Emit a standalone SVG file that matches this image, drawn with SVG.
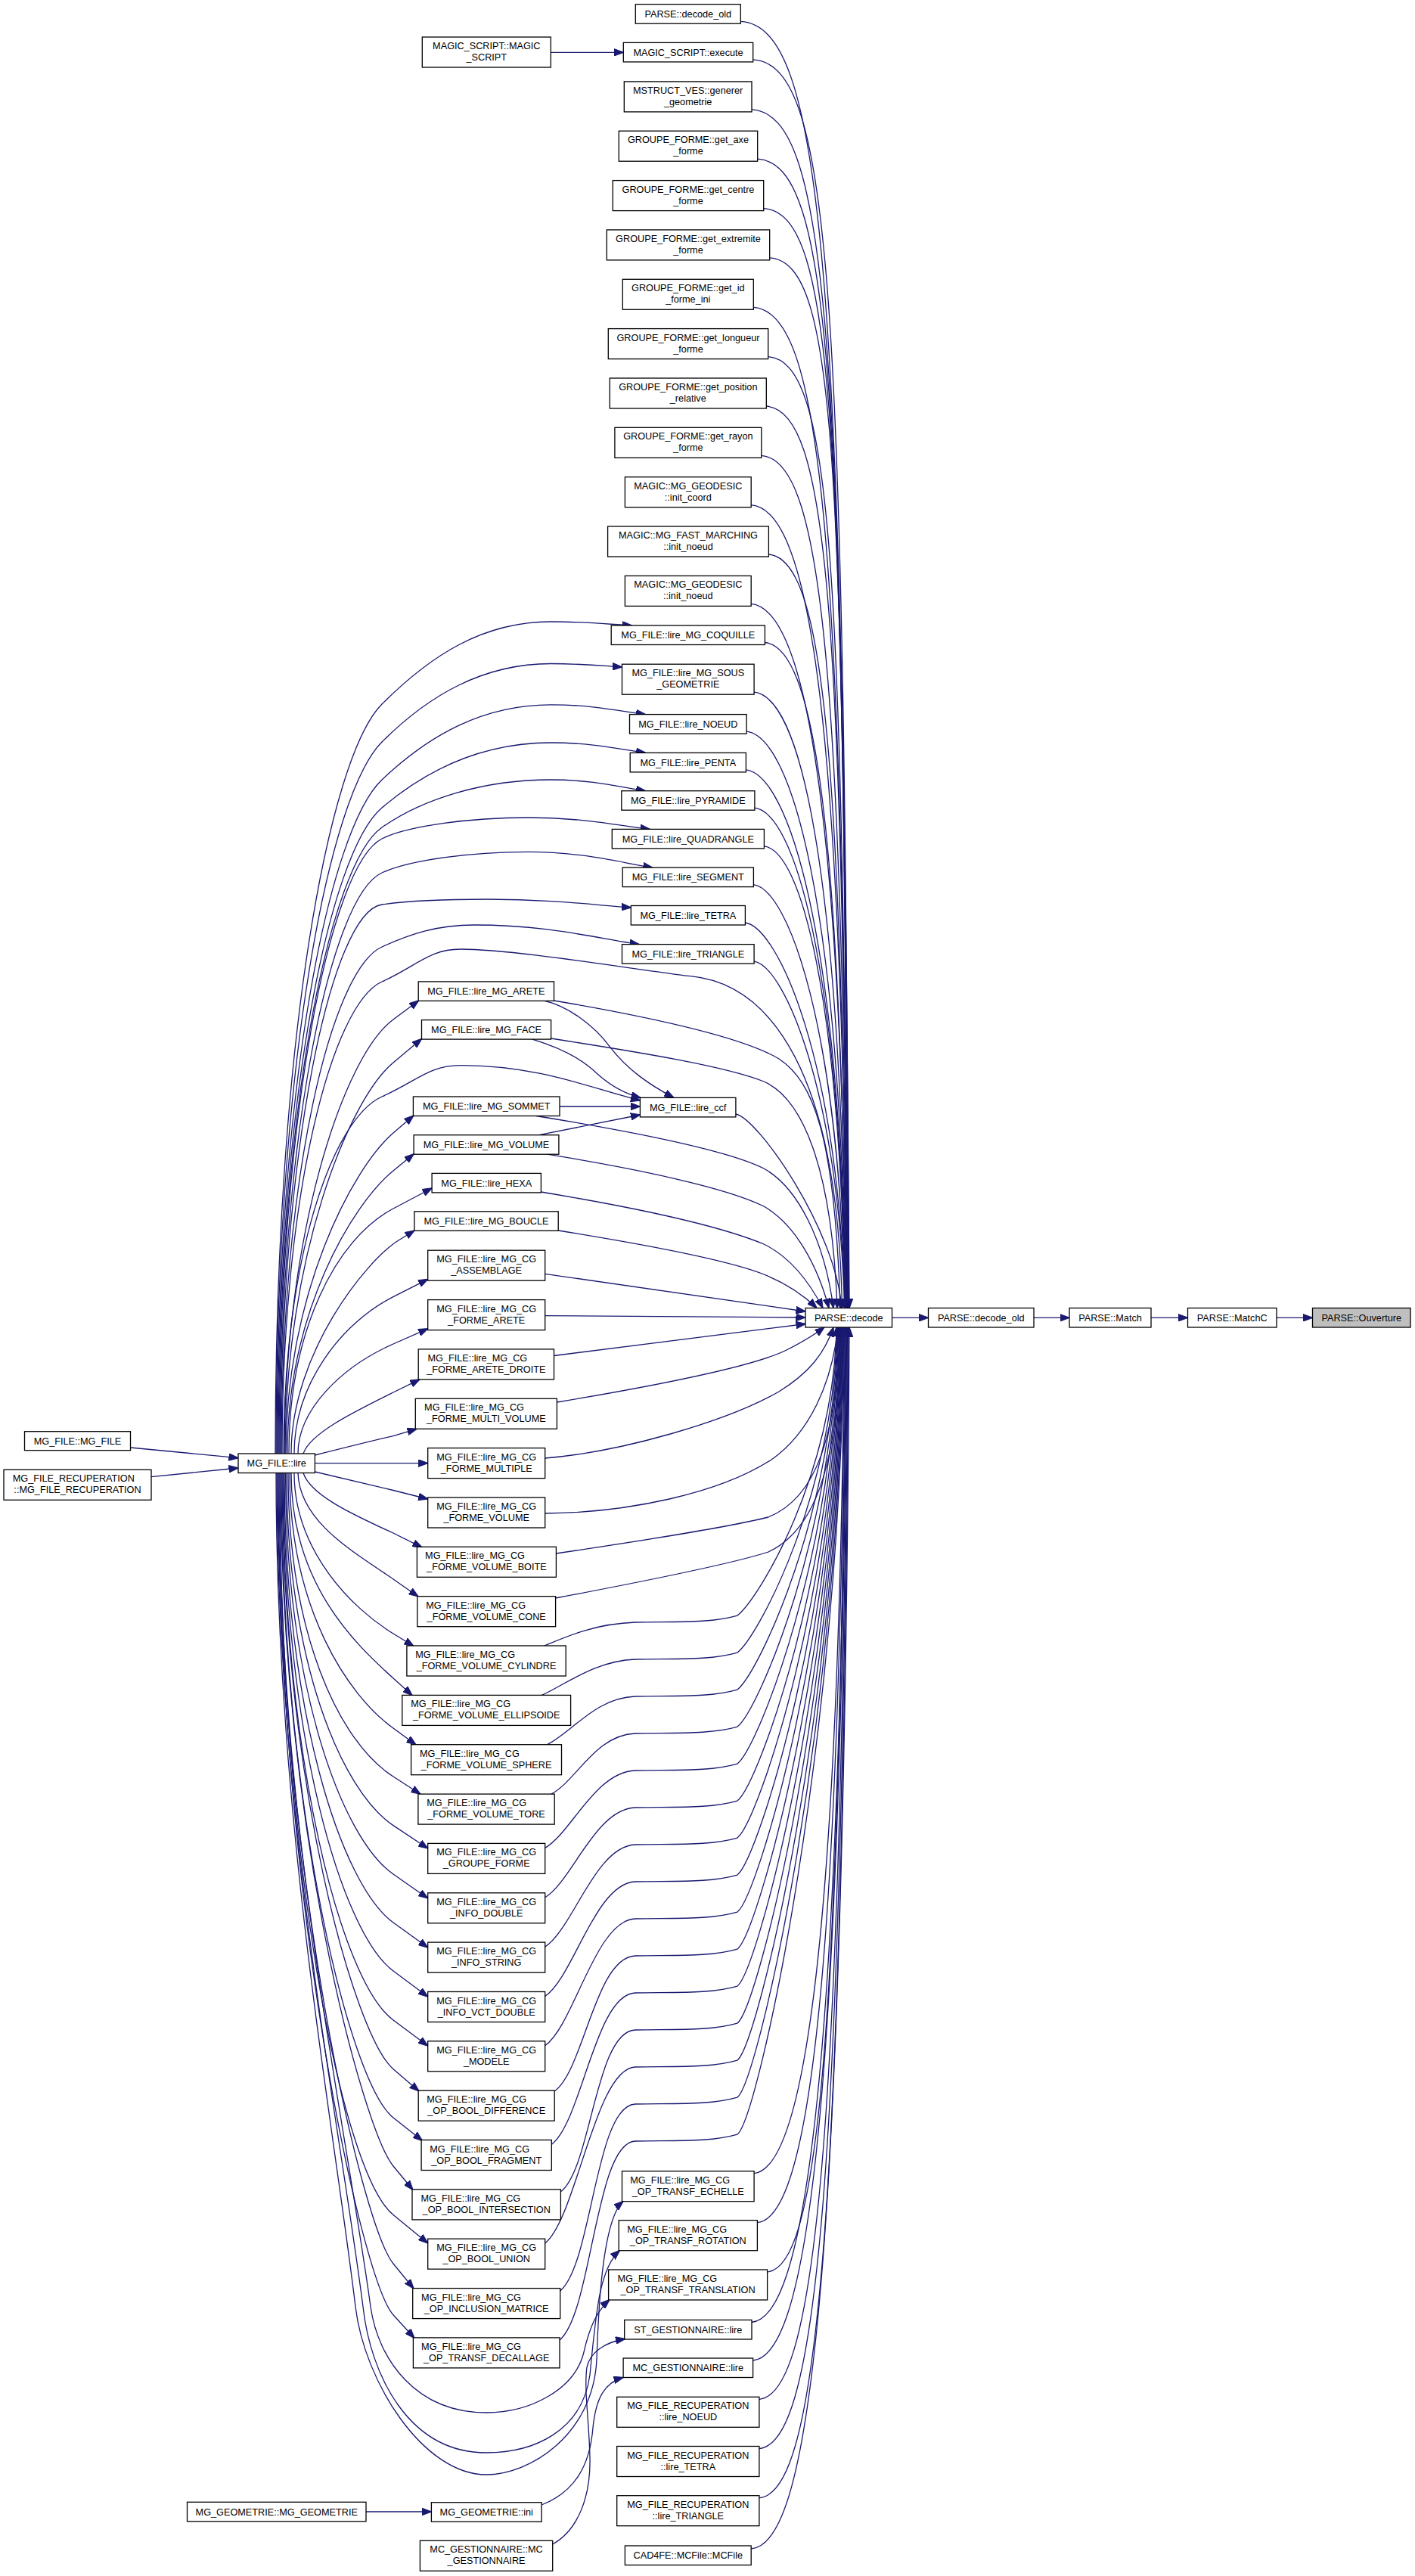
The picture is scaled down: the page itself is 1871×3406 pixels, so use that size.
<svg xmlns="http://www.w3.org/2000/svg" width="1871" height="3406" viewBox="0 0 1871 3406">
<style>
.n rect{fill:#fff;stroke:#000;stroke-width:1.3}
.n text{font-family:"Liberation Sans",Arial,Helvetica,sans-serif;font-size:12.7px;fill:#000}
.m{text-anchor:middle}
.s{text-anchor:start}
#edges path{fill:none;stroke:#191970;stroke-width:1.3;marker-end:url(#ah)}
</style>
<defs>
<marker id="ah" viewBox="0 0 13 10" refX="12.5" refY="5" markerWidth="13" markerHeight="10" markerUnits="userSpaceOnUse" orient="auto"><path d="M0,0.2 L13,5 L0,9.8 Z" fill="#191970" stroke="#191970" stroke-width="1"/></marker>
</defs>
<rect x="0" y="0" width="1871" height="3406" fill="#fff"/>
<g id="edges">
<path d="M1179.5,1742.3H1227.5"/>
<path d="M1367,1742.3H1414"/>
<path d="M1522,1742.3H1570.5"/>
<path d="M1688,1742.3H1735.5"/>
<path d="M728.3,69.3H824.3"/>
<path d="M172.5,1914L315,1927.7"/>
<path d="M200,1952.7L315,1941"/>
<path d="M484,3321H570.4"/>
<path d="M979.3,28.4C1088.1,34.4 1115,358.3 1123,1729.5"/>
<path d="M995.7,78.9C1101.7,84.9 1114.7,402.6 1122.7,1729.5"/>
<path d="M994,144.9C1096.4,150.9 1114.4,460.5 1122.4,1729.5"/>
<path d="M1001.7,210.2C1100.5,216.2 1114.1,517.7 1122.1,1729.5"/>
<path d="M1009.7,275.6C1104.9,281.6 1113.8,575.1 1121.8,1729.5"/>
<path d="M1017.7,340.9C1109.3,346.9 1113.5,632.3 1121.5,1729.5"/>
<path d="M996.3,406.3C1084.3,412.3 1113.2,689.7 1121.2,1729.5"/>
<path d="M1015.7,471.6C1100.1,477.6 1112.9,747 1120.9,1729.5"/>
<path d="M1013.3,537C1094.1,543 1112.6,804.3 1120.6,1729.5"/>
<path d="M1006.8,602.3C1084,608.3 1112.3,861.6 1120.3,1729.5"/>
<path d="M993.2,667.7C1066.8,673.7 1112,919 1120,1729.5"/>
<path d="M1016.4,733C1086.5,739 1111.7,976.2 1119.7,1729.5"/>
<path d="M993.2,798.4C1059.7,804.4 1111.4,1033.6 1119.4,1729.5"/>
<path d="M1011.4,849.5C1075.1,855.5 1111.1,1078.4 1119.1,1729.5"/>
<path d="M997.1,915.2C1057.1,921.2 1110.8,1136 1118.8,1729.5"/>
<path d="M987.1,967.1C1044.3,973.1 1110.5,1181.5 1118.5,1729.5"/>
<path d="M986.4,1017.9C1040.8,1023.9 1110.2,1226.1 1118.2,1729.5"/>
<path d="M997.9,1068.2C1049.5,1074.2 1109.9,1270.2 1117.9,1729.5"/>
<path d="M1010.4,1118.9C1059.2,1124.9 1109.6,1314.7 1117.6,1729.5"/>
<path d="M996.4,1169.6C1042.4,1175.6 1109.3,1359.1 1117.3,1729.5"/>
<path d="M985.4,1220C1028.7,1226 1109,1403.3 1117,1729.5"/>
<path d="M997.1,1271.1C1037.6,1277.1 1108.7,1448.1 1116.7,1729.5"/>
<path d="M973,1473C1002.4,1479 1105,1625.2 1113,1729.5"/>
<path d="M997.1,2873.7C1057.2,2867.7 1108.5,2615.4 1116.5,1755"/>
<path d="M1001.4,2938.7C1063.4,2932.7 1109.3,2672.5 1117.3,1755"/>
<path d="M1014.6,3004C1078.6,2998 1110.1,2729.7 1118.1,1755"/>
<path d="M994,3070.5C1060,3064.5 1110.9,2788 1118.9,1755"/>
<path d="M995.6,3121C1063.1,3115 1111.7,2832.3 1119.7,1755"/>
<path d="M1003.9,3172.3C1072.9,3166.3 1112.5,2877.3 1120.5,1755"/>
<path d="M1003.9,3237.5C1074.9,3231.5 1113.3,2934.5 1121.3,1755"/>
<path d="M1003.9,3302.7C1076.8,3296.7 1114.1,2991.7 1122.1,1755"/>
<path d="M993.2,3370C1068.2,3364 1115,3050.7 1123,1755"/>
<path d="M364,1922C364,1377 434.5,1001.5 505,931C570.4,865.6 639.2,822 728.6,822C776.8,822 808.9,825.9 835.7,827"/>
<path d="M365,1922C365,1404.5 435,1051 505,981C567.1,918.9 639.2,877.5 728.6,877.5C770.9,877.5 799,880.6 822.5,882"/>
<path d="M366,1922C366,1432 435.5,1097 505,1031C567.7,971.4 639.2,931.8 728.6,931.8C784.9,931.8 822.4,940.8 853.6,944.6"/>
<path d="M367,1922C367,1452.3 436,1126.7 505,1068C565.7,1016.4 639.2,982 728.6,982C784.9,982 822.4,991.4 853.6,995.4"/>
<path d="M368,1922C368,1466.6 436.5,1142 505,1094C559,1056.2 639.2,1031 728.6,1031C784.9,1031 822.4,1041.3 853.6,1045.7"/>
<path d="M369,1922C369,1474.9 437,1143 505,1109C538.6,1092.2 621.2,1081 698.6,1081C770.9,1081 819.1,1091.8 859.3,1096.4"/>
<path d="M370,1922C370,1499.6 437.5,1184.4 505,1154C541.8,1137.4 621.2,1126.4 698.6,1126.4C772.5,1126.4 821.8,1140.9 862.9,1147.1"/>
<path d="M371,1922C371,1522.7 438,1206 505,1196C533,1191.8 589,1189 645,1189C730.2,1189 787,1196.7 834.3,1200"/>
<path d="M372,1922C372,1553.5 438.5,1281.9 505,1252C543.7,1234.6 578.2,1223 627,1223C725.1,1223 790.5,1240.9 845,1248.6"/>
<path d="M373,1922C373,1578.8 439,1327.7 505,1298C551.8,1276.9 567.4,1255 609,1255C680,1255 840,1282 913,1290.7C1020,1301 1108,1420 1113.5,1729.5"/>
<path d="M375,1922C375,1662.4 440,1479.3 505,1450C551.8,1428.9 567.4,1408.6 609,1408.6C715.8,1408.6 787,1441 846.4,1455"/>
<path d="M376,1922C376,1635 452.8,1398 520,1348L553.6,1323"/>
<path d="M377,1922C377,1663.5 460,1455.2 520,1405L557.5,1373.6"/>
<path d="M378,1922C378,1710 466.4,1544 520,1498L546.8,1475"/>
<path d="M380,1922C380,1735 465.8,1592.6 520,1548L547.1,1525.7"/>
<path d="M382,1922C382,1760 443.5,1638.5 520,1598L571.1,1571"/>
<path d="M385,1922C385,1789 485,1666 527,1640L548,1627"/>
<path d="M389,1922C389,1830 451.4,1749.4 520,1714.6L565.7,1691.4"/>
<path d="M394,1922C394,1864 451.4,1807.3 520,1777L565.7,1756.8"/>
<path d="M401,1922C410,1895 467.5,1867 520,1841L555,1823.9"/>
<path d="M416.4,1924C460,1913 500,1903 520,1898.6L551,1889.3"/>
<path d="M416.4,1934.6H565.7"/>
<path d="M416.4,1946C460,1956 500,1966 520,1970.5L565.7,1982"/>
<path d="M401,1947.5C410,1975 457,1998.5 520,2027L558,2046"/>
<path d="M394,1947.5C396,2013 470,2053 520,2088L553,2111"/>
<path d="M389,1947.5C389,2050.6 466,2127 520,2160L547,2176.5"/>
<path d="M385,1947.5C385,2094.5 470,2173.8 520,2219L545,2241.6"/>
<path d="M383,1947.5C383,2127 460,2241.8 520,2285L550,2306.9"/>
<path d="M381,1947.5C381,2159.5 448,2303 520,2349L556,2372.3"/>
<path d="M379,1947.5C379,2195.5 451.4,2368 520,2413.6L565.7,2444"/>
<path d="M377.5,1947.5C377.5,2228.5 451.4,2430 520,2478L565.7,2510"/>
<path d="M376,1947.5C376,2261 451.4,2492.5 520,2542L565.7,2575"/>
<path d="M375,1947.5C375,2294 451.4,2555 520,2606L565.7,2640"/>
<path d="M374,1947.5C374,2326 451.4,2620 520,2671L565.7,2705"/>
<path d="M373,1947.5C373,2356 469,2691.8 520,2735.7L554,2765"/>
<path d="M372,1947.5C372,2389 462,2754 520,2800L558.5,2830.5"/>
<path d="M371,1947.5C371,2421 481,2816.8 520,2864L546,2895.5"/>
<path d="M370,1947.5C370,2457 451.4,2872.5 520,2928.6L565.7,2966"/>
<path d="M369,1947.5C369,2486 479.5,2943.5 520,2993L547,3026"/>
<path d="M368,1947.5C368,2519 478,3014.5 520,3060.7L548,3091.5"/>
<path d="M367,1947.5C367,2400 456,2800 490,3050C500,3120 550,3190 643,3190C700,3190 760,3160 772,3110C780,3075 790,3055 806,3040.5"/>
<path d="M366,1947.5C366,2400 448,2800 480,3050C490,3140 540,3243 643,3243C705,3243 770,3215 780,3140C788,3060 792,3000 819.5,2975.5"/>
<path d="M365,1947.5C365,2400 440,2800 470,3050C482,3150 560,3272 643,3272C700,3272 784,3220 789,3120C791,3060 796,2935 824,2910.5"/>
<path d="M716.1,3312C760,3295 780,3260 784,3210C788,3170 800,3150 824.1,3143.5"/>
<path d="M730.7,3364C765,3345 781,3300 780,3250C779,3200 772,3160 776,3130C780,3110 800,3097 826.5,3092.5"/>
<path d="M720,1323.4C750,1330 785,1355 806,1383.6C830,1415 860,1435 891,1451.4"/>
<path d="M704,1374.1C740,1385 770,1400 790,1420C810,1438 830,1447 847,1451.4"/>
<path d="M740,1463H846.4"/>
<path d="M713,1500.7L846.4,1474"/>
<path d="M732.5,1323C850,1343 980,1370 1030,1400C1075,1430 1104,1500 1111,1729.5"/>
<path d="M728.6,1373C850,1392 960,1410 1010,1430C1060,1452 1100,1540 1107,1729.5"/>
<path d="M709,1475.5C830,1495 960,1520 1010,1545C1055,1570 1090,1640 1102,1729.5"/>
<path d="M723.6,1526.2C840,1545 960,1570 1010,1595C1050,1618 1080,1670 1096,1729.5"/>
<path d="M715.4,1576C830,1595 950,1620 1010,1645C1045,1662 1070,1695 1088,1729.5"/>
<path d="M738.2,1627C850,1645 960,1665 1010,1685C1040,1697 1062,1712 1080,1729.5"/>
<path d="M720.7,1684.3L1065,1734"/>
<path d="M720.7,1739.6L1065,1742"/>
<path d="M732.5,1792.5L1065,1750.5"/>
<path d="M736.4,1854C880,1830 1000,1805 1040,1785C1060,1775 1075,1766 1090,1755"/>
<path d="M720.7,1928C820,1920 960,1880 1030,1840C1070,1815 1090,1790 1102,1755"/>
<path d="M720.7,2001C830,2000 950,1975 1020,1930C1070,1895 1100,1830 1108,1755"/>
<path d="M735.4,2054C830,2040 960,2020 1016,2006C1080,1980 1105,1900 1112,1755"/>
<path d="M734.6,2113C830,2095 960,2070 1016,2052C1085,2020 1108,1920 1114,1755"/>
<path d="M720,2176C751.6,2162.8 787,2147 840,2145C900,2144 940,2146 975,2136C1003,2114 1103,1949.5 1106,1755"/>
<path d="M716.4,2241.4C748.8,2226.6 787,2196 840,2194C900,2193 940,2195 975,2185C1003,2163 1103.7,1974 1106.7,1755"/>
<path d="M723.6,2306.7C756.8,2290 787,2245 840,2243C900,2242 940,2244 975,2234C1003,2212 1104.4,1998.5 1107.4,1755"/>
<path d="M729,2372.1C763,2353.7 787,2294 840,2292C900,2291 940,2293 975,2283C1003,2261 1105.1,2023 1108.1,1755"/>
<path d="M720.7,2443.4C755.9,2422.7 787,2343 840,2341C900,2340 940,2342 975,2332C1003,2310 1105.8,2047.5 1108.8,1755"/>
<path d="M720.7,2508.8C756.7,2486.8 787,2392 840,2390C900,2389 940,2391 975,2381C1003,2359 1106.5,2072 1109.5,1755"/>
<path d="M720.7,2574.1C757.5,2550.5 787,2441 840,2439C900,2438 940,2440 975,2430C1003,2408 1107.2,2096.5 1110.2,1755"/>
<path d="M720.7,2639.5C758.3,2614.3 787,2490 840,2488C900,2487 940,2489 975,2479C1003,2457 1107.9,2121 1110.9,1755"/>
<path d="M720.7,2704.8C759.2,2677.9 787,2539 840,2537C900,2536 940,2538 975,2528C1003,2506 1108.6,2145.5 1111.6,1755"/>
<path d="M733.2,2765C772.2,2737 787,2588 840,2586C900,2585 940,2587 975,2577C1003,2555 1109.3,2170 1112.3,1755"/>
<path d="M729.3,2835.5C769.4,2805.3 787,2637 840,2635C900,2634 940,2636 975,2626C1003,2604 1110,2194.5 1113,1755"/>
<path d="M741.4,2898C782.2,2866.5 787,2686 840,2684C900,2683 940,2685 975,2675C1003,2653 1110.7,2219 1113.7,1755"/>
<path d="M720.7,2966C762.4,2932.6 787,2735 840,2733C900,2732 940,2734 975,2724C1003,2702 1111.4,2243.5 1114.4,1755"/>
<path d="M740.7,3029C783.1,2994.2 787,2784 840,2782C900,2781 940,2783 975,2773C1003,2751 1112.1,2268 1115.1,1755"/>
<path d="M740,3094C783.2,3057.6 787,2833 840,2831C900,2830 940,2832 975,2822C1003,2800 1112.8,2292.5 1115.8,1755"/>
</g>
<g id="n_decode" class="n"><rect x="1065" y="1729.5" width="114.5" height="25.5"/><text class="m" x="1122.25" y="1746.7">PARSE::decode</text></g>
<g id="n_decode_old_r" class="n"><rect x="1227.5" y="1729.5" width="139.5" height="25.5"/><text class="m" x="1297.25" y="1746.7">PARSE::decode_old</text></g>
<g id="n_match" class="n"><rect x="1414" y="1729.5" width="108" height="25.5"/><text class="m" x="1468" y="1746.7">PARSE::Match</text></g>
<g id="n_matchc" class="n"><rect x="1570.5" y="1729.5" width="117.5" height="25.5"/><text class="m" x="1629.25" y="1746.7">PARSE::MatchC</text></g>
<g id="n_ouverture" class="n"><rect x="1735.5" y="1729.5" width="129.5" height="25.5" style="fill:#bfbfbf"/><text class="m" x="1800.25" y="1746.7">PARSE::Ouverture</text></g>
<g id="n_t0" class="n"><rect x="840.3" y="5.7" width="139" height="25.5"/><text class="m" x="909.8" y="22.9">PARSE::decode_old</text></g>
<g id="n_t1" class="n"><rect x="824.3" y="56.4" width="171.4" height="25.5"/><text class="m" x="910" y="73.6">MAGIC_SCRIPT::execute</text></g>
<g id="n_t2" class="n"><rect x="825.3" y="107.9" width="168.7" height="40"/><text class="m" x="909.65" y="123.9">MSTRUCT_VES::generer</text><text class="m" x="909.65" y="138.9">_geometrie</text></g>
<g id="n_t3" class="n"><rect x="818.3" y="173.2" width="183.4" height="40"/><text class="m" x="910" y="189.2">GROUPE_FORME::get_axe</text><text class="m" x="910" y="204.2">_forme</text></g>
<g id="n_t4" class="n"><rect x="810.3" y="238.6" width="199.4" height="40"/><text class="m" x="910" y="254.6">GROUPE_FORME::get_centre</text><text class="m" x="910" y="269.6">_forme</text></g>
<g id="n_t5" class="n"><rect x="802.3" y="303.9" width="215.4" height="40"/><text class="m" x="910" y="319.9">GROUPE_FORME::get_extremite</text><text class="m" x="910" y="334.9">_forme</text></g>
<g id="n_t6" class="n"><rect x="823.3" y="369.3" width="173" height="40"/><text class="m" x="909.8" y="385.3">GROUPE_FORME::get_id</text><text class="m" x="909.8" y="400.3">_forme_ini</text></g>
<g id="n_t7" class="n"><rect x="804.3" y="434.6" width="211.4" height="40"/><text class="m" x="910" y="450.6">GROUPE_FORME::get_longueur</text><text class="m" x="910" y="465.6">_forme</text></g>
<g id="n_t8" class="n"><rect x="806.3" y="500" width="207" height="40"/><text class="m" x="909.8" y="516">GROUPE_FORME::get_position</text><text class="m" x="909.8" y="531">_relative</text></g>
<g id="n_t9" class="n"><rect x="812.9" y="565.3" width="193.9" height="40"/><text class="m" x="909.85" y="581.3">GROUPE_FORME::get_rayon</text><text class="m" x="909.85" y="596.3">_forme</text></g>
<g id="n_t10" class="n"><rect x="826.4" y="630.7" width="166.8" height="40"/><text class="m" x="909.8" y="646.7">MAGIC::MG_GEODESIC</text><text class="m" x="909.8" y="661.7">::init_coord</text></g>
<g id="n_t11" class="n"><rect x="803.6" y="696" width="212.8" height="40"/><text class="m" x="910" y="712">MAGIC::MG_FAST_MARCHING</text><text class="m" x="910" y="727">::init_noeud</text></g>
<g id="n_t12" class="n"><rect x="826.4" y="761.4" width="166.8" height="40"/><text class="m" x="909.8" y="777.4">MAGIC::MG_GEODESIC</text><text class="m" x="909.8" y="792.4">::init_noeud</text></g>
<g id="n_t13" class="n"><rect x="808.2" y="827" width="203.2" height="25.5"/><text class="m" x="909.8" y="844.2">MG_FILE::lire_MG_COQUILLE</text></g>
<g id="n_t14" class="n"><rect x="822.5" y="878.2" width="174.6" height="40"/><text class="m" x="909.8" y="894.2">MG_FILE::lire_MG_SOUS</text><text class="m" x="909.8" y="909.2">_GEOMETRIE</text></g>
<g id="n_t15" class="n"><rect x="832.5" y="944.6" width="154.6" height="25.5"/><text class="m" x="909.8" y="961.8">MG_FILE::lire_NOEUD</text></g>
<g id="n_t16" class="n"><rect x="833.2" y="995.4" width="153.2" height="25.5"/><text class="m" x="909.8" y="1012.6">MG_FILE::lire_PENTA</text></g>
<g id="n_t17" class="n"><rect x="821.8" y="1045.7" width="176.1" height="25.5"/><text class="m" x="909.85" y="1062.9">MG_FILE::lire_PYRAMIDE</text></g>
<g id="n_t18" class="n"><rect x="809.3" y="1096.4" width="201.1" height="25.5"/><text class="m" x="909.85" y="1113.6">MG_FILE::lire_QUADRANGLE</text></g>
<g id="n_t19" class="n"><rect x="823.2" y="1147.1" width="173.2" height="25.5"/><text class="m" x="909.8" y="1164.3">MG_FILE::lire_SEGMENT</text></g>
<g id="n_t20" class="n"><rect x="834.3" y="1197.5" width="151.1" height="25.5"/><text class="m" x="909.85" y="1214.7">MG_FILE::lire_TETRA</text></g>
<g id="n_t21" class="n"><rect x="822.5" y="1248.6" width="174.6" height="25.5"/><text class="m" x="909.8" y="1265.8">MG_FILE::lire_TRIANGLE</text></g>
<g id="n_t22" class="n"><rect x="846.4" y="1451.4" width="126.5" height="25.5"/><text class="m" x="909.65" y="1468.6">MG_FILE::lire_ccf</text></g>
<g id="n_b0" class="n"><rect x="822.5" y="2870.7" width="174.6" height="40"/><text class="s" x="833.2" y="2886.7">MG_FILE::lire_MG_CG</text><text class="m" x="909.8" y="2901.7">_OP_TRANSF_ECHELLE</text></g>
<g id="n_b1" class="n"><rect x="818.2" y="2935.7" width="183.2" height="40"/><text class="s" x="829.3" y="2951.7">MG_FILE::lire_MG_CG</text><text class="m" x="909.8" y="2966.7">_OP_TRANSF_ROTATION</text></g>
<g id="n_b2" class="n"><rect x="804.6" y="3001" width="210" height="40"/><text class="s" x="816.4" y="3017">MG_FILE::lire_MG_CG</text><text class="m" x="909.6" y="3032">_OP_TRANSF_TRANSLATION</text></g>
<g id="n_b3" class="n"><rect x="825.7" y="3067.5" width="168.3" height="25.5"/><text class="m" x="909.85" y="3084.7">ST_GESTIONNAIRE::lire</text></g>
<g id="n_b4" class="n"><rect x="824.1" y="3118" width="171.5" height="25.5"/><text class="m" x="909.85" y="3135.2">MC_GESTIONNAIRE::lire</text></g>
<g id="n_b5" class="n"><rect x="815.7" y="3169.3" width="188.2" height="40"/><text class="m" x="909.8" y="3185.3">MG_FILE_RECUPERATION</text><text class="m" x="909.8" y="3200.3">::lire_NOEUD</text></g>
<g id="n_b6" class="n"><rect x="815.7" y="3234.5" width="188.2" height="40"/><text class="m" x="909.8" y="3250.5">MG_FILE_RECUPERATION</text><text class="m" x="909.8" y="3265.5">::lire_TETRA</text></g>
<g id="n_b7" class="n"><rect x="815.7" y="3299.7" width="188.2" height="40"/><text class="m" x="909.8" y="3315.7">MG_FILE_RECUPERATION</text><text class="m" x="909.8" y="3330.7">::lire_TRIANGLE</text></g>
<g id="n_b8" class="n"><rect x="826.4" y="3366" width="166.8" height="25.5"/><text class="m" x="909.8" y="3383.2">CAD4FE::MCFile::MCFile</text></g>
<g id="n_magic" class="n"><rect x="558.3" y="49" width="170" height="40"/><text class="m" x="643.3" y="65">MAGIC_SCRIPT::MAGIC</text><text class="m" x="643.3" y="80">_SCRIPT</text></g>
<g id="n_u0" class="n"><rect x="553.2" y="1297.9" width="179.3" height="25.5"/><text class="m" x="642.85" y="1315.1">MG_FILE::lire_MG_ARETE</text></g>
<g id="n_u1" class="n"><rect x="557.5" y="1348.6" width="171.1" height="25.5"/><text class="m" x="643.05" y="1365.8">MG_FILE::lire_MG_FACE</text></g>
<g id="n_u2" class="n"><rect x="546.4" y="1450" width="193.6" height="25.5"/><text class="m" x="643.2" y="1467.2">MG_FILE::lire_MG_SOMMET</text></g>
<g id="n_u3" class="n"><rect x="547.1" y="1500.7" width="191.8" height="25.5"/><text class="m" x="643" y="1517.9">MG_FILE::lire_MG_VOLUME</text></g>
<g id="n_u4" class="n"><rect x="571.1" y="1551.4" width="144.3" height="25.5"/><text class="m" x="643.25" y="1568.6">MG_FILE::lire_HEXA</text></g>
<g id="n_u5" class="n"><rect x="547.9" y="1601.8" width="190.3" height="25.5"/><text class="m" x="643.05" y="1619">MG_FILE::lire_MG_BOUCLE</text></g>
<g id="n_c0" class="n"><rect x="565.7" y="1653.2" width="155" height="40"/><text class="m" x="643.2" y="1669.2">MG_FILE::lire_MG_CG</text><text class="m" x="643.2" y="1684.2">_ASSEMBLAGE</text></g>
<g id="n_c1" class="n"><rect x="565.7" y="1718.6" width="155" height="40"/><text class="m" x="643.2" y="1734.6">MG_FILE::lire_MG_CG</text><text class="m" x="643.2" y="1749.6">_FORME_ARETE</text></g>
<g id="n_c2" class="n"><rect x="553.2" y="1783.9" width="179.3" height="40"/><text class="s" x="565.4" y="1799.9">MG_FILE::lire_MG_CG</text><text class="m" x="642.85" y="1814.9">_FORME_ARETE_DROITE</text></g>
<g id="n_c3" class="n"><rect x="549.3" y="1849.3" width="187.1" height="40"/><text class="s" x="561.1" y="1865.3">MG_FILE::lire_MG_CG</text><text class="m" x="642.85" y="1880.3">_FORME_MULTI_VOLUME</text></g>
<g id="n_c4" class="n"><rect x="565.7" y="1914.6" width="155" height="40"/><text class="m" x="643.2" y="1930.6">MG_FILE::lire_MG_CG</text><text class="m" x="643.2" y="1945.6">_FORME_MULTIPLE</text></g>
<g id="n_c5" class="n"><rect x="565.7" y="1980" width="155" height="40"/><text class="m" x="643.2" y="1996">MG_FILE::lire_MG_CG</text><text class="m" x="643.2" y="2011">_FORME_VOLUME</text></g>
<g id="n_c6" class="n"><rect x="551.4" y="2045.3" width="184" height="40"/><text class="s" x="562.1" y="2061.3">MG_FILE::lire_MG_CG</text><text class="m" x="643.4" y="2076.3">_FORME_VOLUME_BOITE</text></g>
<g id="n_c7" class="n"><rect x="551.8" y="2110.7" width="182.8" height="40"/><text class="s" x="563.2" y="2126.7">MG_FILE::lire_MG_CG</text><text class="m" x="643.2" y="2141.7">_FORME_VOLUME_CONE</text></g>
<g id="n_c8" class="n"><rect x="537.9" y="2176" width="210.3" height="40"/><text class="s" x="549.3" y="2192">MG_FILE::lire_MG_CG</text><text class="m" x="643.05" y="2207">_FORME_VOLUME_CYLINDRE</text></g>
<g id="n_c9" class="n"><rect x="531.8" y="2241.4" width="222.8" height="40"/><text class="s" x="543.2" y="2257.4">MG_FILE::lire_MG_CG</text><text class="m" x="643.2" y="2272.4">_FORME_VOLUME_ELLIPSOIDE</text></g>
<g id="n_c10" class="n"><rect x="543.6" y="2306.7" width="198.9" height="40"/><text class="s" x="555" y="2322.7">MG_FILE::lire_MG_CG</text><text class="m" x="643.05" y="2337.7">_FORME_VOLUME_SPHERE</text></g>
<g id="n_c11" class="n"><rect x="552.9" y="2372.1" width="180.3" height="40"/><text class="s" x="564.3" y="2388.1">MG_FILE::lire_MG_CG</text><text class="m" x="643.05" y="2403.1">_FORME_VOLUME_TORE</text></g>
<g id="n_c12" class="n"><rect x="565.7" y="2437.4" width="155" height="40"/><text class="m" x="643.2" y="2453.4">MG_FILE::lire_MG_CG</text><text class="m" x="643.2" y="2468.4">_GROUPE_FORME</text></g>
<g id="n_c13" class="n"><rect x="565.7" y="2502.8" width="155" height="40"/><text class="m" x="643.2" y="2518.8">MG_FILE::lire_MG_CG</text><text class="m" x="643.2" y="2533.8">_INFO_DOUBLE</text></g>
<g id="n_c14" class="n"><rect x="565.7" y="2568.1" width="155" height="40"/><text class="m" x="643.2" y="2584.1">MG_FILE::lire_MG_CG</text><text class="m" x="643.2" y="2599.1">_INFO_STRING</text></g>
<g id="n_c15" class="n"><rect x="565.7" y="2633.5" width="155" height="40"/><text class="m" x="643.2" y="2649.5">MG_FILE::lire_MG_CG</text><text class="m" x="643.2" y="2664.5">_INFO_VCT_DOUBLE</text></g>
<g id="n_c16" class="n"><rect x="565.7" y="2698.8" width="155" height="40"/><text class="m" x="643.2" y="2714.8">MG_FILE::lire_MG_CG</text><text class="m" x="643.2" y="2729.8">_MODELE</text></g>
<g id="n_c17" class="n"><rect x="553.2" y="2764.2" width="180" height="40"/><text class="s" x="564.3" y="2780.2">MG_FILE::lire_MG_CG</text><text class="m" x="643.2" y="2795.2">_OP_BOOL_DIFFERENCE</text></g>
<g id="n_c18" class="n"><rect x="557.1" y="2829.5" width="172.2" height="40"/><text class="s" x="568.2" y="2845.5">MG_FILE::lire_MG_CG</text><text class="m" x="643.2" y="2860.5">_OP_BOOL_FRAGMENT</text></g>
<g id="n_c19" class="n"><rect x="545" y="2894.9" width="196.4" height="40"/><text class="s" x="556.4" y="2910.9">MG_FILE::lire_MG_CG</text><text class="m" x="643.2" y="2925.9">_OP_BOOL_INTERSECTION</text></g>
<g id="n_c20" class="n"><rect x="565.7" y="2960.2" width="155" height="40"/><text class="m" x="643.2" y="2976.2">MG_FILE::lire_MG_CG</text><text class="m" x="643.2" y="2991.2">_OP_BOOL_UNION</text></g>
<g id="n_c21" class="n"><rect x="545.7" y="3025.6" width="195" height="40"/><text class="s" x="557.1" y="3041.6">MG_FILE::lire_MG_CG</text><text class="m" x="643.2" y="3056.6">_OP_INCLUSION_MATRICE</text></g>
<g id="n_c22" class="n"><rect x="546.4" y="3090.9" width="193.6" height="40"/><text class="s" x="557.1" y="3106.9">MG_FILE::lire_MG_CG</text><text class="m" x="643.2" y="3121.9">_OP_TRANSF_DECALLAGE</text></g>
<g id="n_g0" class="n"><rect x="570.4" y="3308.7" width="145.7" height="25.5"/><text class="m" x="643.25" y="3325.9">MG_GEOMETRIE::ini</text></g>
<g id="n_g1" class="n"><rect x="555.4" y="3359.3" width="175.3" height="40"/><text class="m" x="643.05" y="3375.3">MC_GESTIONNAIRE::MC</text><text class="m" x="643.05" y="3390.3">_GESTIONNAIRE</text></g>
<g id="n_lire" class="n"><rect x="315" y="1922" width="101.4" height="25.5"/><text class="m" x="365.7" y="1939.2">MG_FILE::lire</text></g>
<g id="n_geo" class="n"><rect x="247.5" y="3308.3" width="236.5" height="25.5"/><text class="m" x="365.75" y="3325.5">MG_GEOMETRIE::MG_GEOMETRIE</text></g>
<g id="n_mgfile" class="n"><rect x="32.5" y="1892.7" width="140" height="25"/><text class="m" x="102.5" y="1909.6">MG_FILE::MG_FILE</text></g>
<g id="n_recup" class="n"><rect x="5" y="1943.3" width="195" height="40"/><text class="s" x="16.7" y="1959.3">MG_FILE_RECUPERATION</text><text class="m" x="102.5" y="1974.3">::MG_FILE_RECUPERATION</text></g>
</svg>
